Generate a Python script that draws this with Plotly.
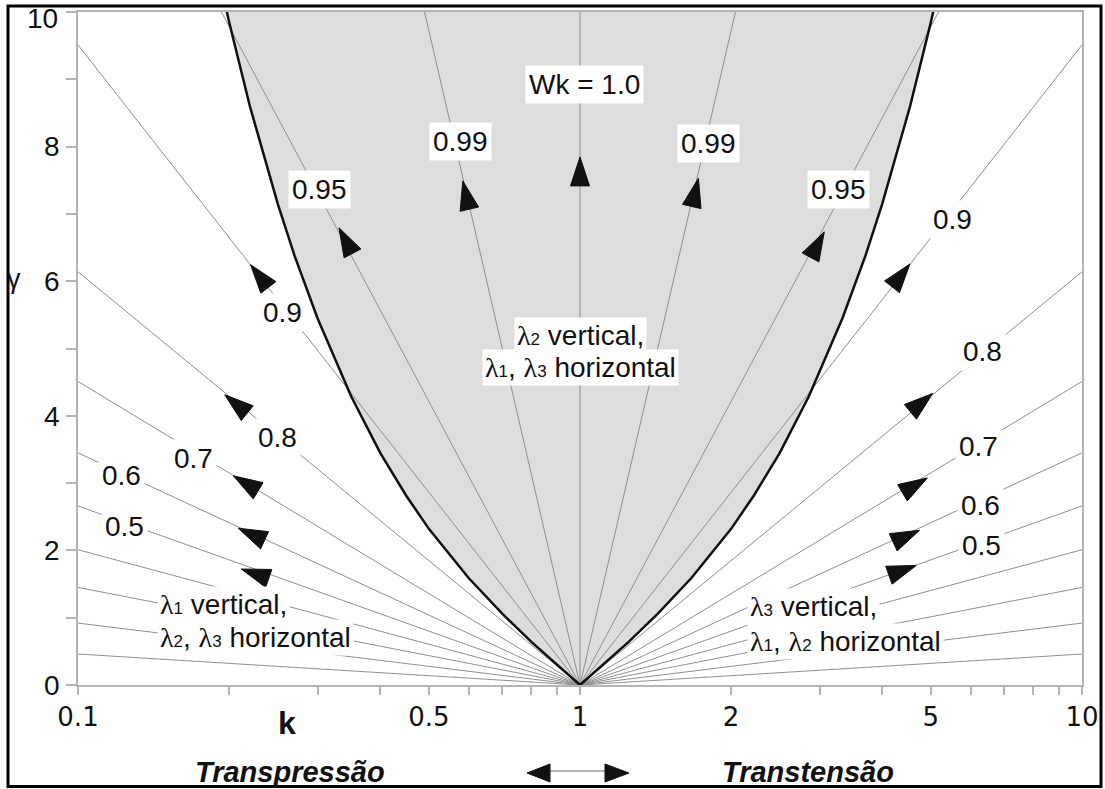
import math
import plotly.graph_objects as go

# ---------------- data ----------------
wk_values = [1.0, 0.99, 0.95, 0.9, 0.8, 0.7, 0.6, 0.5, 0.4, 0.3, 0.2, 0.1]
# gamma reached by each Wk line at k = 0.1 and k = 10
gamma_edge = [None, 32.3, 14.0, 9.51, 6.14, 4.51, 3.45, 2.66, 2.01, 1.45, 0.92, 0.46]

# boundary of the "lambda2 vertical" field
boundary_k_left = [0.19, 0.2, 0.22, 0.25, 0.27, 0.3, 0.35, 0.4, 0.45, 0.5, 0.6, 0.7, 0.8, 0.9, 0.95, 1.0]
boundary_g_left = [10.59, 9.85, 8.60, 7.15, 6.38, 5.45, 4.29, 3.45, 2.82, 2.32, 1.59, 1.06, 0.64, 0.30, 0.15, 0.0]
boundary_k_right = [1.0, 1.053, 1.111, 1.25, 1.429, 1.667, 2.0, 2.222, 2.5, 2.857, 3.333, 3.704, 4.0, 4.545, 5.0, 5.263]
boundary_g_right = [0.0, 0.15, 0.30, 0.64, 1.06, 1.59, 2.32, 2.82, 3.45, 4.29, 5.45, 6.38, 7.15, 8.60, 9.85, 10.59]

# arrow heads (centre positions along the Wk lines)
arrow_k = [1.0, 0.596, 1.687, 0.345, 2.94, 0.233, 4.30, 0.210, 4.71, 0.220, 4.56, 0.226, 4.38, 0.230, 4.30]
arrow_g = [7.56, 7.21, 7.25, 6.54, 6.48, 6.02, 6.03, 4.13, 4.15, 2.96, 2.93, 2.21, 2.18, 1.63, 1.68]

# Wk labels
label_text = ["Wk = 1.0", "0.99", "0.99", "0.95", "0.95", "0.9", "0.9", "0.8", "0.8",
              "0.7", "0.7", "0.6", "0.6", "0.5", "0.5"]
label_k = [1.02, 0.577, 1.80, 0.303, 3.28, 0.256, 5.53, 0.250, 6.35, 0.170, 6.21, 0.122, 6.27, 0.124, 6.32]
label_g = [8.93, 8.07, 8.05, 7.36, 7.37, 5.54, 6.92, 3.68, 4.96, 3.37, 3.55, 3.11, 2.66, 2.35, 2.07]

x_tickvals = [0.1, 0.2, 0.3, 0.4, 0.5, 0.6, 0.7, 0.8, 0.9, 1, 2, 3, 4, 5, 6, 7, 8, 9, 10]
x_ticklabels = {0.1: "0.1", 0.5: "0.5", 1: "1", 2: "2", 5: "5", 10: "10"}
y_tickvals = list(range(0, 11))
y_ticklabels = {0: "0", 2: "2", 4: "4", 6: "6", 8: "8"}
y_top_label = "10"

# ---------------- layout geometry ----------------
W_FIG, H_FIG = 1105, 789
ML, MR, MT, MB = 78, 23, 12, 104
PW = W_FIG - ML - MR
PH = H_FIG - MT - MB

FONT = "Liberation Sans, Arial, sans-serif"
WIDE_FONT = "DejaVu Sans, Liberation Sans, sans-serif"
LINE_GREY = "#8f8f8f"
AXIS_GREY = "#b4b4b4"


def px(k):
    return ML + (math.log10(k) + 1) / 2 * PW


def py(g):
    return MT + (10 - g) / 10 * PH


def inv_x(x):
    return 10 ** ((x - ML) / PW * 2 - 1)


def inv_y(y):
    return 10 - (y - MT) / PH * 10


def paper_x(x):
    return (x - ML) / PW


def paper_y(y):
    return (MT + PH - y) / PH


fig = go.Figure()

# grey field
fig.add_trace(go.Scatter(
    x=boundary_k_left + boundary_k_right[1:],
    y=boundary_g_left + boundary_g_right[1:],
    mode="lines", fill="toself", fillcolor="#dddddd",
    line=dict(width=0), hoverinfo="skip", showlegend=False))

# Wk lines
for w, g in zip(wk_values, gamma_edge):
    if g is None:
        xs, ys = [1, 1], [0, 12]
    else:
        xs, ys = [0.1, 1, 10], [g, 0, g]
    fig.add_trace(go.Scatter(x=xs, y=ys, mode="lines",
                             line=dict(color=LINE_GREY, width=1),
                             hoverinfo="skip", showlegend=False))

# boundary curves
fig.add_trace(go.Scatter(x=boundary_k_left, y=boundary_g_left, mode="lines",
                         line=dict(color="#111111", width=2.5),
                         hoverinfo="skip", showlegend=False))
fig.add_trace(go.Scatter(x=boundary_k_right, y=boundary_g_right, mode="lines",
                         line=dict(color="#111111", width=2.5),
                         hoverinfo="skip", showlegend=False))

# arrow heads as filled triangles
AL, AB = 29, 19
ox, oy = px(1), py(0)
ax_list, ay_list = [], []
for k, g in zip(arrow_k, arrow_g):
    cx, cy = px(k), py(g)
    dx, dy = cx - ox, cy - oy
    n = math.hypot(dx, dy)
    ux, uy = dx / n, dy / n
    nx, ny = -uy, ux
    tip = (cx + ux * AL * 2 / 3, cy + uy * AL * 2 / 3)
    bm = (cx - ux * AL / 3, cy - uy * AL / 3)
    b1 = (bm[0] + nx * AB / 2, bm[1] + ny * AB / 2)
    b2 = (bm[0] - nx * AB / 2, bm[1] - ny * AB / 2)
    for (x, y) in (tip, b1, b2, tip):
        ax_list.append(inv_x(x))
        ay_list.append(inv_y(y))
    ax_list.append(None)
    ay_list.append(None)
fig.add_trace(go.Scatter(x=ax_list, y=ay_list, mode="lines", fill="toself",
                         fillcolor="#111111", line=dict(color="#111111", width=1),
                         hoverinfo="skip", showlegend=False))

annotations = []
for t, k, g in zip(label_text, label_k, label_g):
    annotations.append(dict(x=math.log10(k), y=g, xref="x", yref="y", text=t,
                            showarrow=False, bgcolor="white", borderpad=3,
                            xanchor="center", yanchor="middle",
                            font=dict(family=FONT, size=28, color="#111111")))


def lam(n):
    return ("<span style='font-family:Liberation Serif, Times New Roman, serif'>λ</span>"
            "<span style='font-size:17px'>" + str(n) + "</span>")


region_labels = [
    (lam(2) + " vertical,", 1.0, 5.20, "center"),
    (lam(1) + ", " + lam(3) + " horizontal", 1.0, 4.72, "center"),
    (lam(1) + " vertical,", 0.1437, 1.19, "left"),
    (lam(2) + ", " + lam(3) + " horizontal", 0.1437, 0.70, "left"),
    (lam(3) + " vertical,", 2.15, 1.16, "left"),
    (lam(1) + ", " + lam(2) + " horizontal", 2.15, 0.64, "left"),
]
for t, k, g, anchor in region_labels:
    annotations.append(dict(x=math.log10(k), y=g, xref="x", yref="y", text=t,
                            showarrow=False, bgcolor="white", borderpad=2,
                            xanchor=anchor, yanchor="middle",
                            font=dict(family=FONT, size=28, color="#111111")))

# top y tick label (placed slightly lower, as in the reference, so it stays inside the frame)
annotations.append(dict(x=paper_x(60), y=paper_y(19), xref="paper", yref="paper",
                        text=y_top_label, showarrow=False, xanchor="right", yanchor="middle",
                        font=dict(family=FONT, size=28, color="#111111")))

# axis titles and footer texts
annotations.append(dict(x=paper_x(14), y=paper_y(279), xref="paper", yref="paper",
                        text="γ", showarrow=False, xanchor="center", yanchor="middle",
                        font=dict(family=FONT, size=27, color="#111111")))
annotations.append(dict(x=paper_x(287), y=paper_y(723), xref="paper", yref="paper",
                        text="<b>k</b>", showarrow=False, xanchor="center", yanchor="middle",
                        font=dict(family=FONT, size=32, color="#111111")))
annotations.append(dict(x=paper_x(290), y=paper_y(772), xref="paper", yref="paper",
                        text="<b><i>Transpressão</i></b>", showarrow=False,
                        xanchor="center", yanchor="middle",
                        font=dict(family=FONT, size=29, color="#111111")))
annotations.append(dict(x=paper_x(808), y=paper_y(772), xref="paper", yref="paper",
                        text="<b><i>Transtensão</i></b>", showarrow=False,
                        xanchor="center", yanchor="middle",
                        font=dict(family=FONT, size=29, color="#111111")))


def ppath(points):
    s = ""
    for i, (x, y) in enumerate(points):
        s += ("M" if i == 0 else "L") + f"{paper_x(x):.5f},{paper_y(y):.5f} "
    return s + "Z"


shapes = [
    # outer frame
    dict(type="rect", xref="paper", yref="paper",
         x0=paper_x(8), x1=paper_x(1101), y0=paper_y(786.5), y1=paper_y(6),
         line=dict(color="black", width=3), fillcolor="rgba(0,0,0,0)", layer="above"),
    # double arrow under the axis
    dict(type="line", xref="paper", yref="paper",
         x0=paper_x(548), x1=paper_x(606), y0=paper_y(771), y1=paper_y(771),
         line=dict(color="#999999", width=1.5)),
    dict(type="path", xref="paper", yref="paper",
         path=ppath([(527, 773), (550, 764), (550, 782)]),
         fillcolor="#111111", line=dict(color="#111111", width=1)),
    dict(type="path", xref="paper", yref="paper",
         path=ppath([(629, 773), (605, 764), (605, 782)]),
         fillcolor="#111111", line=dict(color="#111111", width=1)),
]

fig.update_layout(
    width=W_FIG, height=H_FIG, autosize=False,
    margin=dict(l=ML, r=MR, t=MT, b=MB, pad=0, autoexpand=False),
    paper_bgcolor="white", plot_bgcolor="white",
    showlegend=False,
    annotations=annotations, shapes=shapes,
    xaxis=dict(type="log", range=[-1, 1], showgrid=False, zeroline=False,
               automargin=False,
               showline=True, mirror=True, linecolor=AXIS_GREY, linewidth=1.5,
               ticks="outside", ticklen=8, tickcolor=AXIS_GREY, tickwidth=1.5,
               tickvals=x_tickvals,
               ticktext=[x_ticklabels.get(v, "") for v in x_tickvals],
               ticklabelstandoff=0, ticklabeloverflow="allow",
               tickfont=dict(family=WIDE_FONT, size=26, color="#111111")),
    yaxis=dict(range=[0, 10], showgrid=False, zeroline=False,
               automargin=False,
               showline=True, mirror=True, linecolor=AXIS_GREY, linewidth=1.5,
               ticks="outside", ticklen=10, tickcolor=AXIS_GREY, tickwidth=1.5,
               tickvals=y_tickvals,
               ticktext=[y_ticklabels.get(v, "") for v in y_tickvals],
               ticklabelstandoff=1, ticklabeloverflow="allow",
               tickfont=dict(family=FONT, size=28, color="#111111")),
)

fig.write_html("out.html")
